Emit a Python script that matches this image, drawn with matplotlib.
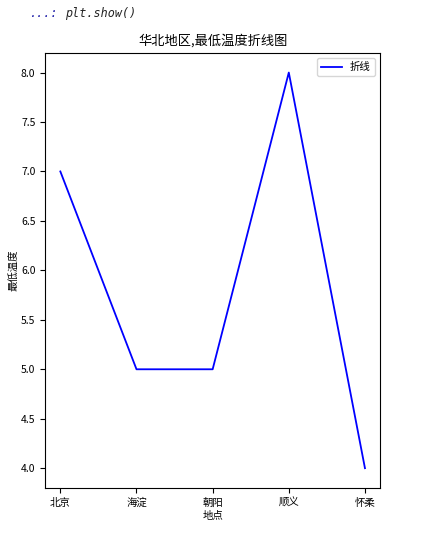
import matplotlib
matplotlib.use('Agg')
import matplotlib.pyplot as plt

plt.rcParams['font.family'] = ['Noto Sans CJK SC', 'DejaVu Sans']
plt.rcParams['axes.unicode_minus'] = False

places = ['北京', '海淀', '朝阳', '顺义', '怀柔']
min_temp = [7, 5, 5, 8, 4]

fig = plt.figure(figsize=(4.38, 5.44), dpi=100)
ax = fig.add_axes([0.103, 0.103, 0.765, 0.8])

ax.plot(places, min_temp, color='blue', linewidth=1.3, label='折线')
ax.set_title('华北地区,最低温度折线图', fontsize=9.5)
ax.set_xlabel('地点', fontsize=7.5, labelpad=2)
ax.set_ylabel('最低温度', fontsize=7.5, labelpad=1)
ax.tick_params(labelsize=7.5)
ax.legend(loc='upper right', fontsize=7.5)

fig.text(0.068, 0.988, '...:', color='#1a1aa6', fontsize=8.5,
         family='DejaVu Sans Mono', style='italic', va='top')
fig.text(0.148, 0.988, 'plt.show()', color='#222222', fontsize=8.5,
         family='DejaVu Sans Mono', style='italic', va='top')

fig.savefig('out.png', dpi=100)
